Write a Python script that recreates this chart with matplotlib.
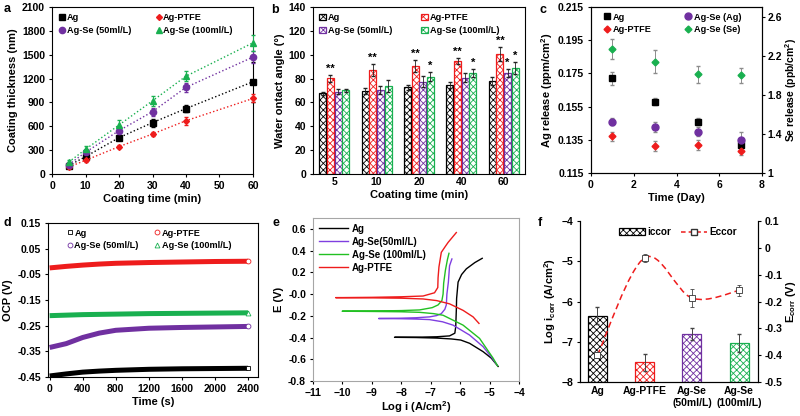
import matplotlib
matplotlib.use("Agg")
import matplotlib.pyplot as plt
import numpy as np
from matplotlib.lines import Line2D
from matplotlib.patches import Patch, PathPatch
from matplotlib.path import Path

COLORS = {
    "ag": "#000000",
    "ptfe": "#EE1C1C",
    "se50": "#7030A0",
    "se100": "#19B050",
    "e_se50": "#7F3FE0",
    "e_se100": "#22C022",
    "err": "#8C8C8C",
    "frame": "#A6A6A6",
}

# a: coating thickness vs time
coat_time = [5, 10, 20, 30, 40, 60]
thick_ag = [105, 218, 457, 646, 823, 1160]
thick_ag_err = [20, 30, 30, 50, 40, 250]
thick_ptfe = [88, 172, 344, 503, 670, 950]
thick_ptfe_err = [15, 20, 20, 20, 50, 50]
thick_se50 = [118, 273, 545, 784, 1090, 1470]
thick_se50_err = [20, 30, 50, 50, 60, 80]
thick_se100 = [150, 310, 616, 920, 1230, 1650]
thick_se100_err = [20, 40, 60, 60, 60, 100]

# b: water contact angle
wca_groups = ["5", "10", "20", "40", "60"]
wca_ag = [67.6, 69.6, 72.6, 74.9, 77.9]
wca_ag_err = [1.0, 2.5, 2.0, 2.5, 3.0]
wca_ptfe = [80.2, 86.9, 90.5, 94.7, 100.6]
wca_ptfe_err = [2.8, 5.0, 4.7, 2.5, 5.6]
wca_se50 = [69.0, 70.4, 77.4, 80.8, 84.7]
wca_se50_err = [2.0, 3.5, 4.8, 4.0, 3.5]
wca_se100 = [70.1, 73.8, 81.6, 84.7, 88.9]
wca_se100_err = [1.5, 4.8, 3.6, 3.6, 4.7]
wca_sig_ptfe = ["**", "**", "**", "**", "**"]
wca_sig_se50 = ["", "", "", "", "*"]
wca_sig_se100 = ["", "", "*", "*", "*"]

# c: ion release
days = [1, 3, 5, 7]
rel_ag = [0.172, 0.158, 0.146, 0.132]
rel_ag_err = [0.004, 0.002, 0.002, 0.002]
rel_ptfe = [0.137, 0.131, 0.132, 0.128]
rel_ptfe_err = [0.003, 0.003, 0.003, 0.002]
rel_se_ag = [0.146, 0.143, 0.140, 0.135]
rel_se_ag_err = [0.002, 0.003, 0.003, 0.005]
rel_se_se = [2.27, 2.14, 2.01, 2.00]
rel_se_se_err = [0.10, 0.12, 0.09, 0.08]

# d: open circuit potential
ocp_time = [0, 200, 400, 600, 800, 1200, 1600, 2000, 2400]
ocp_ag = [-0.446, -0.438, -0.431, -0.427, -0.424, -0.420, -0.418, -0.417, -0.416]
ocp_ptfe = [-0.025, -0.019, -0.014, -0.010, -0.007, -0.004, -0.002, 0.000, 0.001]
ocp_se50 = [-0.335, -0.320, -0.296, -0.279, -0.268, -0.260, -0.257, -0.255, -0.253]
ocp_se100 = [-0.211, -0.209, -0.207, -0.206, -0.205, -0.203, -0.202, -0.201, -0.200]

# e: Tafel curves (cathodic and anodic branches from E_corr)
tafel_ag_cat_i = [-8.23, -7.5, -6.8, -6.3, -5.98, -5.68, -5.22, -4.94, -4.71]
tafel_ag_cat_e = [-0.398, -0.400, -0.405, -0.413, -0.423, -0.453, -0.530, -0.590, -0.666]
tafel_ag_an_i = [-8.23, -7.5, -6.8, -6.36, -6.18, -6.15, -6.13, -6.12, -6.07, -5.95, -5.79, -5.50, -5.25]
tafel_ag_an_e = [-0.398, -0.397, -0.393, -0.385, -0.36, -0.30, -0.15, -0.04, 0.11, 0.18, 0.232, 0.29, 0.329]
tafel_se50_cat_i = [-8.77, -8.0, -7.5, -7.04, -6.6, -6.24, -5.68, -5.22, -4.91, -4.75]
tafel_se50_cat_e = [-0.225, -0.227, -0.230, -0.235, -0.255, -0.286, -0.377, -0.484, -0.590, -0.650]
tafel_se50_an_i = [-8.77, -8.0, -7.5, -7.04, -6.8, -6.64, -6.52, -6.47, -6.45, -6.40, -6.36, -6.28]
tafel_se50_an_e = [-0.225, -0.222, -0.218, -0.210, -0.198, -0.180, -0.140, -0.100, 0.000, 0.110, 0.260, 0.323]
tafel_se100_cat_i = [-10.01, -9.0, -8.0, -7.38, -6.9, -6.58, -5.90, -5.34, -4.88, -4.73]
tafel_se100_cat_e = [-0.158, -0.160, -0.163, -0.168, -0.180, -0.195, -0.286, -0.408, -0.590, -0.660]
tafel_se100_an_i = [-10.01, -9.0, -8.0, -7.38, -6.95, -6.75, -6.62, -6.58, -6.56, -6.50, -6.43, -6.38]
tafel_se100_an_e = [-0.158, -0.156, -0.152, -0.146, -0.125, -0.100, -0.060, 0.000, 0.100, 0.220, 0.320, 0.375]
tafel_ptfe_cat_i = [-10.23, -9.0, -8.0, -7.26, -6.8, -6.36, -5.90, -5.56, -5.36]
tafel_ptfe_cat_e = [-0.033, -0.035, -0.038, -0.045, -0.060, -0.090, -0.150, -0.210, -0.270]
tafel_ptfe_an_i = [-10.23, -9.0, -8.0, -7.26, -6.87, -6.76, -6.75, -6.72, -6.64, -6.50, -6.41, -6.13]
tafel_ptfe_an_e = [-0.033, -0.030, -0.025, -0.018, 0.012, 0.060, 0.150, 0.250, 0.384, 0.440, 0.475, 0.566]

# f: corrosion parameters
corr_labels = ["Ag", "Ag-PTFE", "Ag-Se\n(50ml/L)", "Ag-Se\n(100ml/L)"]
log_icorr = [-6.35, -7.51, -6.80, -7.03]
log_icorr_err = [0.21, 0.21, 0.15, 0.23]
e_corr = [-0.400, -0.037, -0.187, -0.159]
e_corr_err = [0.012, 0.015, 0.034, 0.019]


def setup_style():
    plt.rcParams.update({
        "font.family": ["Liberation Sans", "DejaVu Sans"],
        "font.weight": "bold",
        "font.size": 7.5,
        "axes.labelweight": "bold",
        "axes.labelsize": 8,
        "axes.linewidth": 0.8,
        "xtick.labelsize": 7.5,
        "ytick.labelsize": 7.5,
        "xtick.major.size": 2.5,
        "ytick.major.size": 2.5,
        "xtick.major.pad": 2.5,
        "ytick.major.pad": 2.5,
        "legend.fontsize": 6.6,
        "hatch.linewidth": 0.6,
        "mathtext.fontset": "custom",
        "mathtext.rm": "Liberation Sans:bold",
        "mathtext.default": "rm",
    })


def box(l, t, r, b):
    return [l / 800, 1 - b / 416, (r - l) / 800, (b - t) / 416]


def smooth_path(xs, ys):
    # Excel-like smoothed line (Catmull-Rom as cubic Bezier)
    pts = np.column_stack([xs, ys]).astype(float)
    ext = np.vstack([pts[0], pts, pts[-1]])
    verts = [pts[0]]
    codes = [Path.MOVETO]
    for i in range(len(pts) - 1):
        p0, p1, p2, p3 = ext[i], ext[i + 1], ext[i + 2], ext[i + 3]
        verts += [p1 + (p2 - p0) / 6, p2 - (p3 - p1) / 6, p2]
        codes += [Path.CURVE4] * 3
    return Path(verts, codes)


setup_style()
fig = plt.figure(figsize=(8, 4.16), dpi=100)
order = ["Ag", "Ag-Se (50ml/L)", "Ag-PTFE", "Ag-Se (100ml/L)"]

# ---- a ----
ax_a = fig.add_axes(box(52, 7, 253, 174))
series_a = [
    ("Ag", thick_ag, thick_ag_err, COLORS["ag"], "s", 4.5),
    ("Ag-PTFE", thick_ptfe, thick_ptfe_err, COLORS["ptfe"], "D", 3),
    ("Ag-Se (50ml/L)", thick_se50, thick_se50_err, COLORS["se50"], "o", 4.5),
    ("Ag-Se (100ml/L)", thick_se100, thick_se100_err, COLORS["se100"], "^", 4.5),
]
handles_a = {}
for name, vals, errs, col, mk, ms in series_a:
    ax_a.errorbar(coat_time, vals, yerr=errs, color=col, ls=":", lw=1.0, marker=mk, ms=ms,
                  ecolor=col, elinewidth=0.7, capsize=1.5, clip_on=False, zorder=3)
    handles_a[name] = Line2D([], [], ls="none", marker=mk, ms=ms, color=col)
ax_a.set_xlim(0, 60)
ax_a.set_ylim(0, 2100)
ax_a.set_xticks(range(0, 61, 10))
ax_a.set_yticks(range(0, 2101, 300))
ax_a.set_xlabel("Coating time (min)", labelpad=2)
ax_a.set_ylabel("Coating thickness (nm)", labelpad=3)
ax_a.legend([handles_a[k] for k in order], order, ncol=2, loc="upper left", frameon=False,
            handletextpad=0.1, handlelength=0.8, columnspacing=2.6, borderaxespad=0.3,
            labelspacing=0.4)

# ---- b ----
ax_b = fig.add_axes(box(313, 7, 525, 174))
xg = np.arange(len(wca_groups))
bw = 0.18
series_b = [
    ("Ag", wca_ag, wca_ag_err, COLORS["ag"], None),
    ("Ag-PTFE", wca_ptfe, wca_ptfe_err, COLORS["ptfe"], wca_sig_ptfe),
    ("Ag-Se (50ml/L)", wca_se50, wca_se50_err, COLORS["se50"], wca_sig_se50),
    ("Ag-Se (100ml/L)", wca_se100, wca_se100_err, COLORS["se100"], wca_sig_se100),
]
handles_b = {}
for k, (name, vals, errs, col, sig) in enumerate(series_b):
    xs = xg + (k - 1.5) * bw
    ax_b.bar(xs, vals, width=bw * 0.92, facecolor="white", edgecolor=col, hatch="xxxxx", lw=0.9)
    ax_b.errorbar(xs, vals, yerr=errs, ls="none", ecolor="#222222", elinewidth=0.6, capsize=1.5)
    if sig is not None:
        for x, v, e, s in zip(xs, vals, errs, sig):
            if s:
                ax_b.text(x, v + e + 1.0, s, ha="center", va="bottom", fontsize=8)
    handles_b[name] = Patch(facecolor="white", edgecolor=col, hatch="xxxxx", lw=0.9)
ax_b.set_xlim(-0.5, 4.5)
ax_b.set_ylim(0, 140)
ax_b.set_xticks(xg, wca_groups)
ax_b.tick_params(axis="x", length=0)
ax_b.set_yticks(range(0, 141, 20))
ax_b.set_xlabel("Coating time (min)", labelpad=2)
ax_b.set_ylabel("Water ontact angle (°)", labelpad=3)
ax_b.legend([handles_b[k] for k in order], order, ncol=2, loc="upper left", frameon=False,
            handletextpad=0.2, handlelength=0.7, handleheight=0.7, columnspacing=3.2,
            borderaxespad=0.3, labelspacing=0.4)

# ---- c ----
ax_c = fig.add_axes(box(591, 7, 762, 173))
ax_c2 = ax_c.twinx()
ax_c.errorbar(days, rel_ag, yerr=rel_ag_err, ls="none", marker="s", ms=5, color=COLORS["ag"],
              ecolor=COLORS["err"], elinewidth=0.7, capsize=1.5)
ax_c.errorbar(days, rel_ptfe, yerr=rel_ptfe_err, ls="none", marker="D", ms=3.5, color=COLORS["ptfe"],
              ecolor=COLORS["err"], elinewidth=0.7, capsize=1.5)
ax_c.errorbar(days, rel_se_ag, yerr=rel_se_ag_err, ls="none", marker="o", ms=5, color=COLORS["se50"],
              ecolor=COLORS["err"], elinewidth=0.7, capsize=1.5)
ax_c2.errorbar(days, rel_se_se, yerr=rel_se_se_err, ls="none", marker="D", ms=3.5, color=COLORS["se100"],
               ecolor=COLORS["err"], elinewidth=0.7, capsize=1.5)
ax_c.set_xlim(0, 8)
ax_c.set_ylim(0.115, 0.215)
ax_c.set_xticks(range(0, 9, 2))
ax_c.set_yticks(np.arange(0.115, 0.2151, 0.02))
ax_c.yaxis.set_major_formatter(matplotlib.ticker.FormatStrFormatter("%.3f"))
ax_c2.set_ylim(1, 2.7)
ax_c2.set_yticks([1, 1.4, 1.8, 2.2, 2.6], ["1", "1.4", "1.8", "2.2", "2.6"])
ax_c2.tick_params(axis="y", pad=1.5)
ax_c.set_xlabel("Time (Day)", labelpad=2)
ax_c.set_ylabel("Ag release (ppm/cm$^2$)", labelpad=2)
ax_c2.set_ylabel("Se release (ppb/cm$^2$)", labelpad=0.5, fontsize=7.5)
hc = [
    Line2D([], [], ls="none", marker="s", ms=5, color=COLORS["ag"]),
    Line2D([], [], ls="none", marker="D", ms=3.5, color=COLORS["ptfe"]),
    Line2D([], [], ls="none", marker="o", ms=5, color=COLORS["se50"]),
    Line2D([], [], ls="none", marker="D", ms=3.5, color=COLORS["se100"]),
]
ax_c.legend(hc, ["Ag", "Ag-PTFE", "Ag-Se (Ag)", "Ag-Se (Se)"], ncol=2, loc="upper left",
            bbox_to_anchor=(0.04, 1.0), frameon=False, handletextpad=0.2, handlelength=0.8,
            columnspacing=3.6, borderaxespad=0.2, labelspacing=0.4)

# ---- d ----
ax_d = fig.add_axes(box(48, 223, 258, 377))
series_d = [
    ("Ag", ocp_ag, COLORS["ag"], "s"),
    ("Ag-PTFE", ocp_ptfe, COLORS["ptfe"], "o"),
    ("Ag-Se (50ml/L)", ocp_se50, COLORS["se50"], "o"),
    ("Ag-Se (100ml/L)", ocp_se100, COLORS["se100"], "^"),
]
handles_d = {}
for name, vals, col, mk in series_d:
    ax_d.plot(ocp_time, vals, color=col, lw=3.6, solid_capstyle="butt")
    ax_d.plot(ocp_time[-1], vals[-1], ls="none", marker=mk, ms=3.5, mfc="white", mec=col, mew=0.6,
              clip_on=False)
    handles_d[name] = Line2D([], [], ls="none", marker=mk, ms=3.5, mfc="white", mec=col, mew=0.6)
ax_d.set_xlim(-20, 2520)
ax_d.set_ylim(-0.45, 0.15)
ax_d.set_xticks(range(0, 2401, 400))
ax_d.set_yticks(np.arange(-0.45, 0.151, 0.1))
ax_d.yaxis.set_major_formatter(matplotlib.ticker.FormatStrFormatter("%.2f"))
ax_d.set_xlabel("Time (s)", labelpad=2)
ax_d.set_ylabel("OCP (V)", labelpad=3)
ax_d.legend([handles_d[k] for k in order], order, ncol=2, loc="upper left", bbox_to_anchor=(0.06, 1.0),
            frameon=False, handletextpad=0.1, handlelength=0.8, columnspacing=1.6,
            borderaxespad=0.2, labelspacing=0.35)

# ---- e ----
ax_e = fig.add_axes(box(313, 218, 519, 381))
series_e = [
    ("Ag", tafel_ag_cat_i, tafel_ag_cat_e, tafel_ag_an_i, tafel_ag_an_e, COLORS["ag"]),
    ("Ag-Se(50ml/L)", tafel_se50_cat_i, tafel_se50_cat_e, tafel_se50_an_i, tafel_se50_an_e, COLORS["e_se50"]),
    ("Ag-Se (100ml/L)", tafel_se100_cat_i, tafel_se100_cat_e, tafel_se100_an_i, tafel_se100_an_e, COLORS["e_se100"]),
    ("Ag-PTFE", tafel_ptfe_cat_i, tafel_ptfe_cat_e, tafel_ptfe_an_i, tafel_ptfe_an_e, COLORS["ptfe"]),
]
for name, ci, ce, ai, ae, col in series_e:
    xs = list(ci[::-1]) + list(ai[1:])
    ys = list(ce[::-1]) + list(ae[1:])
    ax_e.plot(xs, ys, color=col, lw=1.0, label=name)
ax_e.set_xlim(-11, -4)
ax_e.set_ylim(-0.8, 0.7)
ax_e.set_xticks(range(-11, -3))
ax_e.set_yticks(np.arange(-0.8, 0.61, 0.2))
ax_e.yaxis.set_major_formatter(matplotlib.ticker.FormatStrFormatter("%.1f"))
for sp in ax_e.spines.values():
    sp.set_color(COLORS["frame"])
ax_e.set_xlabel("Log i (A/cm$^2$)", labelpad=1)
ax_e.set_ylabel("E (V)", labelpad=3)
ax_e.legend(loc="upper left", frameon=False, handlelength=3.0, handletextpad=0.4,
            borderaxespad=0.2, labelspacing=0.3, fontsize=7)

# ---- f ----
ax_f = fig.add_axes(box(580, 221, 758, 382))
ax_f2 = ax_f.twinx()
xf = np.arange(len(corr_labels))
bar_cols = [COLORS["ag"], COLORS["ptfe"], COLORS["se50"], COLORS["se100"]]
ax_f.bar(xf, np.array(log_icorr) + 8, bottom=-8, width=0.4, facecolor="white", edgecolor=bar_cols,
         hatch="xxxxx", lw=0.9)
ax_f.errorbar(xf, log_icorr, yerr=log_icorr_err, ls="none", ecolor="#444444", elinewidth=0.7, capsize=1.5)
ax_f2.add_patch(PathPatch(smooth_path(xf, e_corr), facecolor="none", edgecolor=COLORS["ptfe"],
                          lw=1.1, ls=(0, (4, 2.5))))
ax_f2.errorbar(xf, e_corr, yerr=e_corr_err, ls="none", marker="s", ms=4.5, mfc="white", mec="#333333",
               mew=0.6, ecolor="#444444", elinewidth=0.6, capsize=1.5, zorder=4)
ax_f.set_xlim(-0.37, 3.4)
ax_f.set_ylim(-8, -4)
ax_f.set_yticks(range(-8, -3))
ax_f.set_xticks(xf, corr_labels)
ax_f.tick_params(axis="x", length=0, pad=3)
ax_f2.set_ylim(-0.5, 0.1)
ax_f2.set_yticks(np.arange(-0.5, 0.11, 0.1), ["-0.5", "-0.4", "-0.3", "-0.2", "-0.1", "0", "0.1"])
for a in (ax_f, ax_f2):
    a.spines["top"].set_visible(False)
ax_f.set_ylabel("Log i$_{corr}$ (A/cm$^2$)", labelpad=2)
ax_f2.set_ylabel("E$_{corr}$ (V)", labelpad=1)
hf = [
    Patch(facecolor="white", edgecolor=COLORS["ag"], hatch="xxxxx", lw=0.9),
    Line2D([], [], color=COLORS["ptfe"], ls=(0, (3, 2)), lw=1.1, marker="s", ms=4, mfc="white", mec="#333333"),
]
ax_f2.legend(hf, ["iccor", "Eccor"], ncol=2, loc="upper center", bbox_to_anchor=(0.55, 1.0),
             frameon=False, handlelength=2.6, handleheight=0.7, handletextpad=0.2, columnspacing=1.0,
             borderaxespad=0.2, fontsize=7.2)

# panel letters
for letter, (px, py) in zip("abcdef", [(7, 9), (275, 10), (543, 10), (7, 223), (276, 223), (540, 223)]):
    fig.text(px / 800, 1 - py / 416, letter, fontsize=9, fontweight="bold", ha="center", va="center")

fig.savefig("out.png", dpi=100)
